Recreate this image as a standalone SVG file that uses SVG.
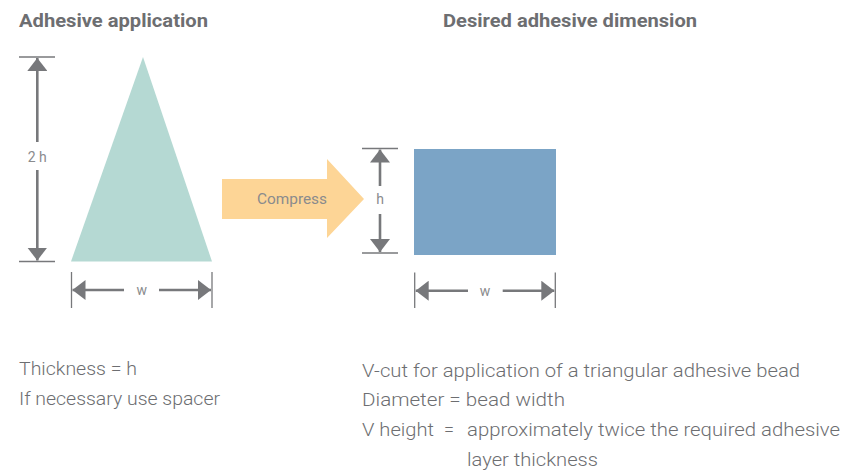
<svg xmlns="http://www.w3.org/2000/svg" width="843" height="473" viewBox="0 0 843 473">
  <style>
    .title { font-family: Roboto, "Liberation Sans", sans-serif; font-weight: bold; font-size: 18px; fill: #6d6e71; }
    .body { font-family: Roboto, "Liberation Sans", sans-serif; font-weight: 300; font-size: 18px; fill: #6d6e71; }
    .lbl { font-family: Roboto, "Liberation Sans", sans-serif; font-size: 14px; fill: #8a8b8d; text-anchor: middle; }
    .dim { stroke: #77787b; stroke-width: 2.6; fill: none; }
    .tick { stroke: #77787b; stroke-width: 1.3; fill: none; }
  </style>
  <defs>
    <marker id="ah" viewBox="0 0 13 20" refX="13" refY="10" markerWidth="13" markerHeight="20" markerUnits="userSpaceOnUse" orient="auto-start-reverse">
      <path d="M0,0 L13,10 L0,20 Z" fill="#77787b"/>
    </marker>
  </defs>

  <g id="titles">
    <text class="title" x="19" y="27" textLength="189" lengthAdjust="spacingAndGlyphs">Adhesive application</text>
    <text class="title" x="443" y="27" textLength="254" lengthAdjust="spacingAndGlyphs">Desired adhesive dimension</text>
  </g>

  <g id="triangle">
    <polygon points="143,57 212,261.5 71,261.5" fill="#b5d9d3"/>
  </g>

  <g id="compress">
    <polygon points="222,179 327,179 327,159 364,199 327,238 327,219 222,219" fill="#fdd596"/>
    <text class="lbl" x="292" y="204" font-size="15" textLength="70" lengthAdjust="spacingAndGlyphs">Compress</text>
  </g>

  <g id="rectangle">
    <rect x="414" y="149" width="142" height="106" fill="#7ba4c6"/>
  </g>

  <g id="connectors">
    <!-- 2h dimension -->
    <line class="tick" x1="19" y1="57" x2="55" y2="57"/>
    <line class="tick" x1="19" y1="261.5" x2="55" y2="261.5"/>
    <line class="dim" x1="37.3" y1="142" x2="37.3" y2="58" marker-end="url(#ah)"/>
    <line class="dim" x1="37.3" y1="170" x2="37.3" y2="260.5" marker-end="url(#ah)"/>
    <text class="lbl" x="37.3" y="162">2 h</text>
    <!-- w under triangle -->
    <line class="tick" x1="71.5" y1="272" x2="71.5" y2="308"/>
    <line class="tick" x1="212" y1="272" x2="212" y2="308"/>
    <line class="dim" x1="124" y1="290" x2="72.5" y2="290" marker-end="url(#ah)"/>
    <line class="dim" x1="159" y1="290" x2="211" y2="290" marker-end="url(#ah)"/>
    <text class="lbl" x="141.7" y="295">w</text>
    <!-- h dimension -->
    <line class="tick" x1="362" y1="148.5" x2="398" y2="148.5"/>
    <line class="tick" x1="362" y1="253" x2="398" y2="253"/>
    <line class="dim" x1="380" y1="186" x2="380" y2="149.5" marker-end="url(#ah)"/>
    <line class="dim" x1="380" y1="214" x2="380" y2="252" marker-end="url(#ah)"/>
    <text class="lbl" x="380" y="204">h</text>
    <!-- w under rectangle -->
    <line class="tick" x1="414.7" y1="272.5" x2="414.7" y2="308"/>
    <line class="tick" x1="555.3" y1="272.5" x2="555.3" y2="308"/>
    <line class="dim" x1="468" y1="290.7" x2="415.7" y2="290.7" marker-end="url(#ah)"/>
    <line class="dim" x1="502.7" y1="290.7" x2="554.3" y2="290.7" marker-end="url(#ah)"/>
    <text class="lbl" x="485" y="295.7">w</text>
  </g>

  <g id="notes-left">
    <text class="body" x="19" y="375" textLength="118" lengthAdjust="spacingAndGlyphs">Thickness = h</text>
    <text class="body" x="19" y="405" textLength="201" lengthAdjust="spacingAndGlyphs">If necessary use spacer</text>
  </g>

  <g id="notes-right">
    <text class="body" x="362" y="377" textLength="438" lengthAdjust="spacingAndGlyphs">V-cut for application of a triangular adhesive bead</text>
    <text class="body" x="362" y="406" textLength="203" lengthAdjust="spacingAndGlyphs">Diameter = bead width</text>
    <text class="body" x="362" y="436" textLength="72" lengthAdjust="spacingAndGlyphs">V height</text>
    <text class="body" x="444" y="436">=</text>
    <text class="body" x="467" y="436" textLength="373" lengthAdjust="spacingAndGlyphs">approximately twice the required adhesive</text>
    <text class="body" x="467" y="466" textLength="131" lengthAdjust="spacingAndGlyphs">layer thickness</text>
  </g>
</svg>
